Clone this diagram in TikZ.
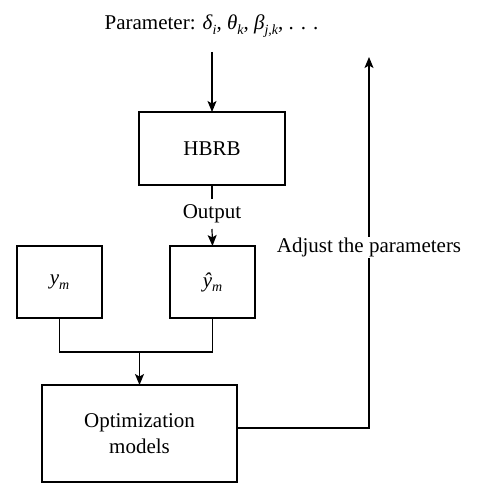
\documentclass[tikz,border=0pt]{standalone}
\usepackage{fontspec}
\setmainfont{Liberation Serif}
\usetikzlibrary{arrows.meta}
\newcommand{\lowsub}[1]{\raisebox{-4.5pt}{\fontsize{14}{14}\selectfont\itshape #1}}
\begin{document}
\begin{tikzpicture}[x=1pt,y=-1pt,
  font=\fontsize{21}{26}\selectfont,
  line width=1.2pt,
  box/.style={draw, inner sep=0pt, outer sep=0pt, align=center},
  lbl/.style={fill=white, inner sep=1pt, outer sep=0pt},
  arr/.style={-{Stealth[length=11pt,width=9pt,inset=2.5pt]}}]
\useasboundingbox (0,0) rectangle (481,500);
% nodes
\node[anchor=base] (param) at (211.5,30) {Parameter: \textit{δ}\lowsub{i}, \textit{θ}\lowsub{k}, \textit{β}\lowsub{j,k}, . . .};
\coordinate (pin) at (212,52);
\node[box, minimum width=146pt, minimum height=73pt] (hbrb) at (212,148.5) {HBRB};
\node[fill=white, inner sep=0pt, outer sep=0pt, minimum height=30pt] (out) at (212,214) {Output};
\node[box, minimum width=85pt, minimum height=72pt] (ym) at (59.5,282) {\textit{y}\lowsub{m}};
\node[box, minimum width=85pt, minimum height=72pt] (yhat) at (212.5,282) {\textit{ŷ}\lowsub{m}};
\coordinate (join) at (139.5,352);
\node[box, minimum width=195pt, minimum height=97pt] (opt) at (139.5,433.5) {Optimization\\models};
\coordinate (top) at (369,57);
\coordinate (corner) at (369,428);
% connectors
\draw[arr] (pin) -- (hbrb.north);
\draw (hbrb.south) -- (out.north);
\draw[arr] (out.south) -- (yhat.north);
\draw (ym.south) |- (join) -| (yhat.south);
\draw[arr] (join) -- (opt.north);
\draw[arr] (opt.east |- corner) -- (corner) -- (top);
\node[lbl] (adj) at (369,247.5) {Adjust the parameters};
\end{tikzpicture}
\end{document}
